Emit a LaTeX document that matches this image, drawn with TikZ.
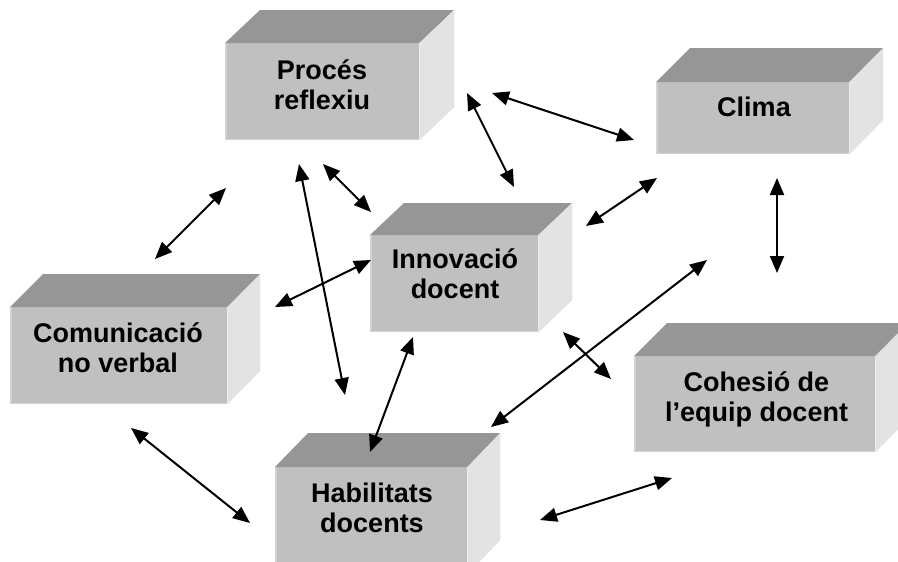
\documentclass[tikz,border=0pt]{standalone}
\usepackage{fontspec}
\setmainfont{Liberation Sans}
\usetikzlibrary{arrows.meta}
\definecolor{boxfront}{HTML}{C0C0C0}
\definecolor{boxtop}{HTML}{969696}
\definecolor{boxside}{HTML}{E3E3E3}
\definecolor{boxedge}{HTML}{D2D2D2}
\tikzset{
  front/.style={fill=boxfront, draw=none, inner sep=0pt, anchor=north west},
  lbl/.style={font=\fontsize{27}{30}\selectfont\bfseries, align=center, inner sep=0pt},
  link/.style={line width=2pt, {Triangle[length=17pt,width=14pt]}-{Triangle[length=17pt,width=14pt]}},
}
% #1 name, #2 left, #3 top, #4 width, #5 height, #6 depth x, #7 depth y
\newcommand\cuboid[7]{%
  \node[front, minimum width=#4pt, minimum height=#5pt] (#1) at (#2,#3) {};
  \draw[boxedge, line width=1.5pt] ([shift={(0.75,0)}]#1.north west) -- ([shift={(0.75,-0.75)}]#1.south west) -- ([shift={(0,-0.75)}]#1.south east);
  \fill[boxtop] (#1.north west) -- ++(#6,-#7) -- ++(#4,0) -- (#1.north east) -- cycle;
  \fill[boxside] (#1.north east) -- ++(#6,-#7) -- ++(0,#5) -- (#1.south east) -- cycle;
}
\begin{document}
\begin{tikzpicture}[x=1pt, y=-1pt]
  \useasboundingbox (0,0) rectangle (898,562);
  \clip (0,0) rectangle (898,562);

  % boxes
  \cuboid{proc}{225}{43}{194}{97}{35}{33}
  \cuboid{clima}{656}{82}{193}{72}{34}{34}
  \cuboid{innov}{370}{235}{168}{97}{34}{32}
  \cuboid{comun}{10}{307}{217}{97}{33}{33}
  \cuboid{cohes}{634}{356}{241}{96}{33}{33}
  \cuboid{habil}{275}{467}{192}{107}{33}{34}

  % labels
  \node[lbl] (proc-t)  at (322,85)    {Procés\\reflexiu};
  \node[lbl] (clima-t) at (754,107)   {Clima};
  \node[lbl] (innov-t) at (455,273.5) {Innovació\\docent};
  \node[lbl] (comun-t) at (118,348)   {Comunicació\\no verbal};
  \node[lbl] (cohes-t) at (756.5,399.5) {Cohesió de\\l’equip docent};
  \node[lbl] (habil-t) at (372,508)   {Habilitats\\docents};

  % connector ends
  \coordinate (a1s) at (492,93);  \coordinate (a1e) at (634,140);
  \coordinate (a2s) at (467,93);  \coordinate (a2e) at (514,187);
  \coordinate (a3s) at (323,164); \coordinate (a3e) at (371,212);
  \coordinate (a4s) at (226,188); \coordinate (a4e) at (155,259);
  \coordinate (a5s) at (299,164); \coordinate (a5e) at (345,395);
  \coordinate (a6s) at (371,260); \coordinate (a6e) at (275,307);
  \coordinate (a7s) at (586,226); \coordinate (a7e) at (657,178);
  \coordinate (a8s) at (413,337); \coordinate (a8e) at (370,452);
  \coordinate (a9s) at (563,332); \coordinate (a9e) at (611,379);
  \coordinate (a10s) at (777,178); \coordinate (a10e) at (777,273);
  \coordinate (a11s) at (707,260); \coordinate (a11e) at (491,427);
  \coordinate (a12s) at (131,428); \coordinate (a12e) at (250,523);
  \coordinate (a13s) at (540,520); \coordinate (a13e) at (672,478);

  % connectors
  \foreach \i in {1,...,13} \draw[link] (a\i s) -- (a\i e);
\end{tikzpicture}
\end{document}
